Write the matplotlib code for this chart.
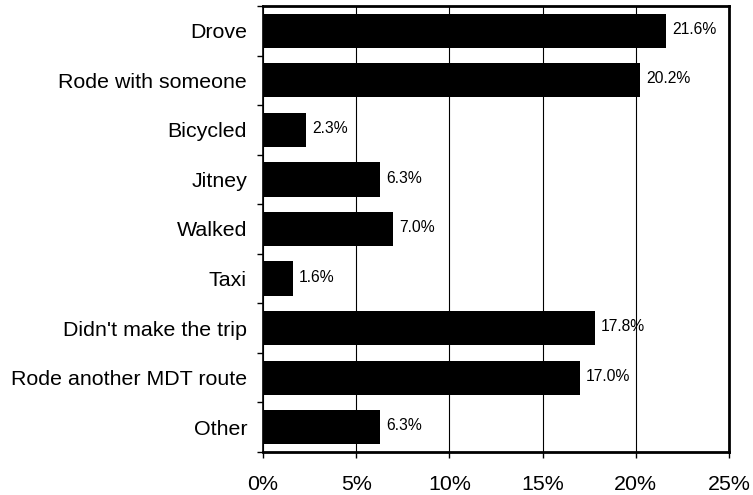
import matplotlib
matplotlib.use("Agg")
import matplotlib.pyplot as plt
from matplotlib.ticker import FuncFormatter, MultipleLocator, FixedLocator

categories = ["Drove", "Rode with someone", "Bicycled", "Jitney", "Walked", "Taxi",
              "Didn't make the trip", "Rode another MDT route", "Other"]
values = [21.6, 20.2, 2.3, 6.3, 7.0, 1.6, 17.8, 17.0, 6.3]

plt.rcParams['font.family'] = ['Liberation Sans', 'DejaVu Sans']

fig = plt.figure(figsize=(7.53, 4.95), dpi=100)
L, R, T, B = 263, 729, 6, 452
ax = fig.add_axes([L/753, 1 - B/495, (R-L)/753, (B-T)/495])

n = len(categories)
ypos = list(range(n))
ax.barh(ypos, values, height=0.69, color='black', zorder=3)
ax.set_ylim(n - 0.5, -0.5)
ax.set_xlim(0, 25)

ax.set_yticks(ypos)
ax.set_yticklabels(categories, fontsize=15.4)
ax.tick_params(axis='y', which='major', length=0, pad=11.5)
ax.yaxis.set_minor_locator(FixedLocator([i - 0.5 for i in range(n + 1)]))
ax.tick_params(axis='y', which='minor', length=4.5, direction='out', width=1)

ax.xaxis.set_major_locator(MultipleLocator(5))
ax.xaxis.set_major_formatter(FuncFormatter(lambda v, p: f"{v:.0f}%"))
ax.tick_params(axis='x', length=4.5, direction='out', labelsize=15.4, pad=12, width=1)

ax.grid(axis='x', color='black', linewidth=0.8, zorder=0)
for s in ax.spines.values():
    s.set_color('black')
ax.spines['left'].set_linewidth(1.2)
ax.spines['bottom'].set_linewidth(2)
ax.spines['top'].set_linewidth(2)
ax.spines['right'].set_linewidth(2)

for y, v in zip(ypos, values):
    ax.annotate(f"{v:.1f}%", (v, y), xytext=(4.5, 1), textcoords='offset points',
                va='center', ha='left', fontsize=11.3, zorder=4)

fig.savefig("out.png", dpi=100)
